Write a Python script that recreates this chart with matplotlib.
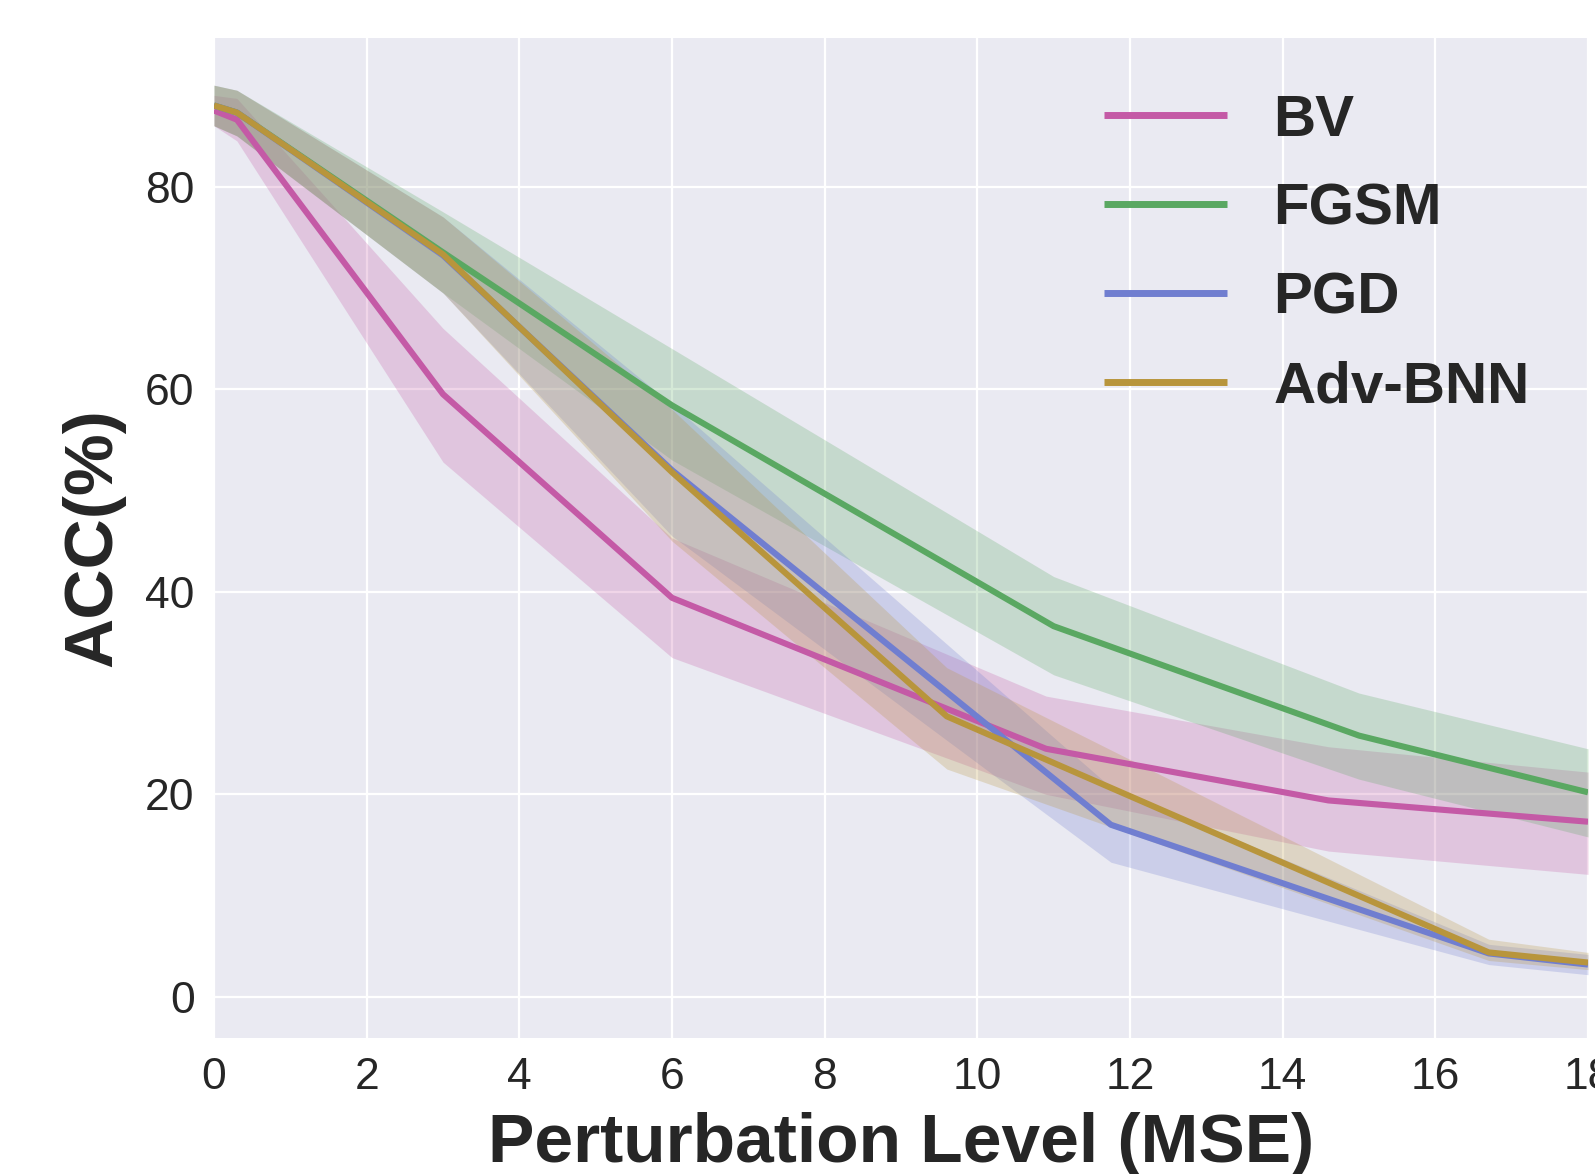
import matplotlib
matplotlib.use("Agg")
import matplotlib.pyplot as plt
import seaborn as sns

sns.set_style("darkgrid")
plt.rcParams['font.family'] = ['Liberation Sans', 'DejaVu Sans']

# ---- data ----
labels = ["BV", "FGSM", "PGD", "Adv-BNN"]
colors = ["#c45aa6", "#5aa862", "#707ed0", "#b8953c"]

bv_x = [0, 0.3, 3.0, 6.0, 10.9, 14.6, 18.0]
bv_y = [87.5, 86.6, 59.5, 39.4, 24.5, 19.4, 17.3]
bv_lo = [86.0, 84.5, 52.8, 33.5, 20.0, 14.4, 12.1]
bv_hi = [89.0, 88.7, 66.0, 45.3, 29.7, 24.7, 22.2]

fgsm_x = [0, 0.3, 3.0, 6.0, 11.0, 15.0, 18.0]
fgsm_y = [88.0, 87.3, 73.5, 58.4, 36.6, 25.8, 20.2]
fgsm_lo = [86.0, 85.0, 69.5, 53.0, 31.8, 21.5, 15.8]
fgsm_hi = [90.0, 89.5, 77.5, 64.0, 41.5, 30.0, 24.5]

pgd_x = [0, 0.3, 3.0, 6.0, 11.75, 16.7, 18.0]
pgd_y = [88.0, 87.3, 73.2, 52.0, 17.0, 4.3, 3.2]
pgd_lo = [86.0, 85.0, 69.5, 45.5, 13.3, 3.2, 2.2]
pgd_hi = [90.0, 89.5, 77.0, 58.5, 20.7, 5.2, 4.2]

adv_x = [0, 0.3, 3.0, 6.0, 9.6, 16.7, 18.0]
adv_y = [88.0, 87.3, 73.3, 51.8, 27.7, 4.4, 3.4]
adv_lo = [86.0, 85.0, 69.5, 45.0, 22.5, 3.6, 2.7]
adv_hi = [90.0, 89.5, 77.0, 58.0, 32.5, 5.7, 4.4]

series = [
    (bv_x, bv_y, bv_lo, bv_hi),
    (fgsm_x, fgsm_y, fgsm_lo, fgsm_hi),
    (pgd_x, pgd_y, pgd_lo, pgd_hi),
    (adv_x, adv_y, adv_lo, adv_hi),
]

xticks = [0, 2, 4, 6, 8, 10, 12, 14, 16, 18]
yticks = [0, 20, 40, 60, 80]

W, H = 1595, 1174
fig = plt.figure(figsize=(W / 100, H / 100), dpi=100)
ax = fig.add_axes([214 / W, 1 - 1037.5 / H, (1588 - 214) / W, (1037.5 - 37.6) / H])
ax.set_facecolor("#eaeaf2")

for (x, y, lo, hi), c, lab in zip(series, colors, labels):
    ax.fill_between(x, lo, hi, color=c, alpha=0.25, linewidth=0)
for (x, y, lo, hi), c, lab in zip(series, colors, labels):
    ax.plot(x, y, color=c, lw=4.4, label=lab, solid_capstyle='butt')

ax.set_xlim(0, 18)
ax.set_ylim(-4, 94.7)
ax.set_xticks(xticks)
ax.set_yticks(yticks)
ax.grid(True, color="white", linewidth=1.6)
for s in ax.spines.values():
    s.set_visible(False)
ax.tick_params(axis='both', length=0, labelsize=32, colors="#262626")
ax.tick_params(axis='x', pad=14)
ax.tick_params(axis='y', pad=14)

ax.set_xlabel("Perturbation Level (MSE)", fontsize=50, fontweight='bold',
              color="#262626", labelpad=10)
ax.set_ylabel("ACC(%)", fontsize=50, fontweight='bold', color="#262626",
              labelpad=14)

leg = ax.legend(loc='upper left', bbox_to_anchor=(0.648, 0.944), frameon=False,
                prop={'weight': 'bold', 'size': 42}, handlelength=2.1,
                handletextpad=0.8, labelspacing=0.6, borderpad=0,
                borderaxespad=0)
for t in leg.get_texts():
    t.set_color("#262626")
for h in leg.get_lines():
    h.set_linewidth(5)

fig.savefig("out.png", dpi=100)
